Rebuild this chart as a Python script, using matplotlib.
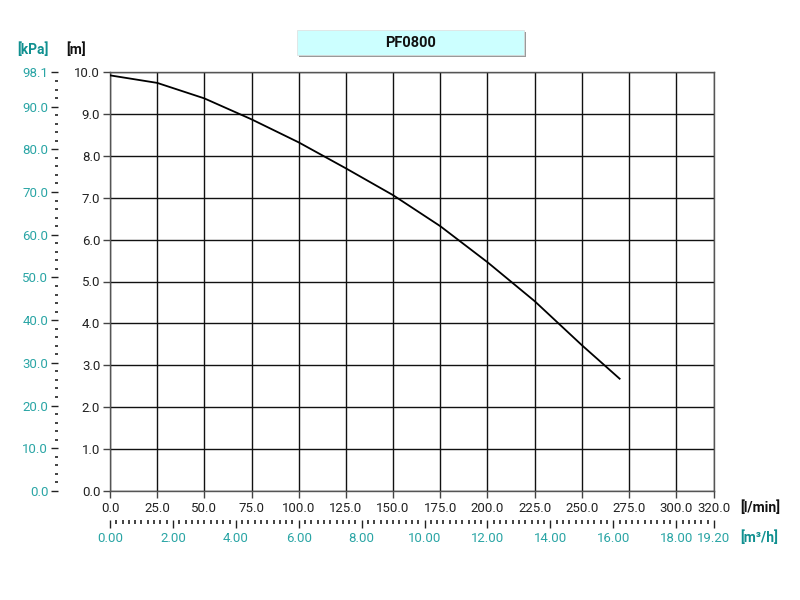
import matplotlib
matplotlib.use("Agg")
import matplotlib.pyplot as plt
from matplotlib.patches import Rectangle
from matplotlib.ticker import FixedLocator, MultipleLocator

plt.rcParams['font.family'] = ['Roboto', 'DejaVu Sans']

title = "PF0800"
flow_lmin = [0, 25, 50, 75, 100, 125, 150, 175, 200, 225, 250, 270]
head_m = [9.92, 9.74, 9.37, 8.87, 8.32, 7.70, 7.06, 6.32, 5.46, 4.53, 3.48, 2.68]

x_ticks = [0, 25, 50, 75, 100, 125, 150, 175, 200, 225, 250, 275, 300, 320]
y_ticks = [0, 1, 2, 3, 4, 5, 6, 7, 8, 9, 10]
kpa_ticks = [0, 10, 20, 30, 40, 50, 60, 70, 80, 90, 98.1]
m3h_ticks = [0, 2, 4, 6, 8, 10, 12, 14, 16, 18, 19.2]

teal = '#2aa5a5'
teal_dark = '#109090'
dark = '#222222'

fig = plt.figure(figsize=(8, 6), dpi=100)
L, R, B, T = 110/800, 714/800, (600-491)/600, (600-72)/600
ax = fig.add_axes([L, B, R-L, T-B])
ax.set_xlim(0, 320)
ax.set_ylim(0, 10)
ax.set_xticks(x_ticks)
ax.set_xticklabels([f"{v:.1f}" for v in x_ticks])
ax.set_yticks(y_ticks)
ax.set_yticklabels([f"{v:.1f}" for v in y_ticks])
ax.grid(True, color='#111111', linewidth=1.0)
ax.set_axisbelow(True)
for s in ax.spines.values():
    s.set_color('#555555')
    s.set_linewidth(1.0)
ax.tick_params(axis='both', labelsize=9.5, colors='#444444', labelcolor=dark, length=5, width=1)
ax.tick_params(axis='x', pad=3)
ax.tick_params(axis='y', pad=2)
ax.plot(flow_lmin, head_m, color='black', linewidth=1.3, zorder=5)

# kPa axis on the left
ax2 = ax.twinx()
ax2.set_ylim(0, 98.1)
for s in ax2.spines.values():
    s.set_visible(False)
ax2.yaxis.set_ticks_position('left')
ax2.yaxis.set_label_position('left')
ax2.spines['left'].set_position(('axes', -(110-58)/604))
ax2.set_yticks(kpa_ticks)
ax2.set_yticklabels([f"{v:.1f}" for v in kpa_ticks])
ax2.yaxis.set_minor_locator(FixedLocator([v for v in range(2, 98, 2) if v % 10 != 0]))
ax2.tick_params(axis='y', which='major', labelsize=9.5, colors=dark, labelcolor=teal, length=5, width=1, pad=2)
ax2.tick_params(axis='y', which='minor', colors=dark, length=2, width=1.2)

# m3/h axis at the bottom
ax3 = ax.twiny()
ax3.set_xlim(0, 19.2)
for s in ax3.spines.values():
    s.set_visible(False)
ax3.xaxis.set_ticks_position('bottom')
ax3.xaxis.set_label_position('bottom')
ax3.spines['bottom'].set_position(('axes', -(520-491)/419))
ax3.set_xticks(m3h_ticks)
ax3.set_xticklabels([f"{v:.2f}" for v in m3h_ticks])
ax3.xaxis.set_minor_locator(MultipleLocator(0.2))
ax3.tick_params(axis='x', which='major', labelsize=9.5, colors=dark, labelcolor=teal, length=6, width=1, pad=3)
ax3.tick_params(axis='x', which='minor', colors=dark, length=3, width=1.2)

# unit labels
fig.text(17/800, 1-50/600, "[kPa]", color=teal_dark, fontsize=10, fontweight='bold', va='center', ha='left')
fig.text(66/800, 1-50/600, "[m]", color='#111111', fontsize=10, fontweight='bold', va='center', ha='left')
fig.text(740/800, 1-508/600, "[l/min]", color='#111111', fontsize=10, fontweight='bold', va='center', ha='left')
fig.text(740/800, 1-538/600, "[m³/h]", color=teal_dark, fontsize=10, fontweight='bold', va='center', ha='left')

# title box
fig.patches.append(Rectangle((299/800, 1-57/600), 227/800, 25/600, transform=fig.transFigure,
                             facecolor='#9a9a9a', edgecolor='none'))
fig.patches.append(Rectangle((297/800, 1-55/600), 227/800, 25/600, transform=fig.transFigure,
                             facecolor='#ccffff', edgecolor='#dddddd', linewidth=0.5))
fig.text((297+113.5)/800, 1-43/600, title, fontsize=10.5, fontweight='bold', color='#111111',
         ha='center', va='center')

fig.savefig("out.png", dpi=100, facecolor='white')
